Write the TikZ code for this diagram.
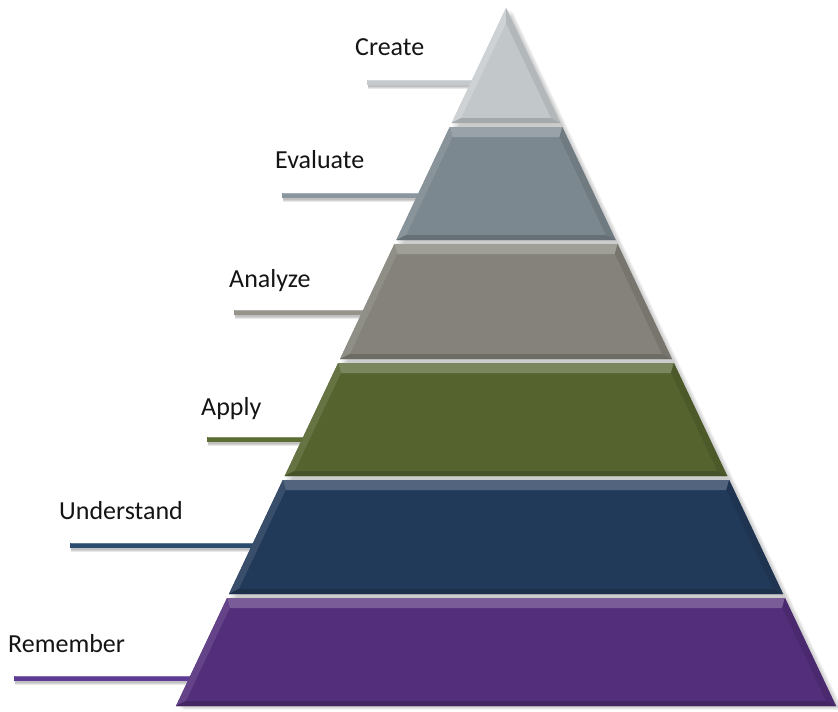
\documentclass[tikz,border=0pt]{standalone}
\usepackage{fontspec}
\setmainfont{Carlito}
\usetikzlibrary{calc}

% layer colours
\definecolor{createc}{HTML}{C2C7CA}
\definecolor{evalc}{HTML}{7C888F}
\definecolor{analc}{HTML}{84827A}
\definecolor{applc}{HTML}{55642F}
\definecolor{undc}{HTML}{223A5A}
\definecolor{remc}{HTML}{532E7B}
% leader line colours
\definecolor{createl}{HTML}{C4CACD}
\definecolor{evall}{HTML}{8A969D}
\definecolor{anall}{HTML}{96938A}
\definecolor{applyl}{HTML}{5C6E33}
\definecolor{undl}{HTML}{2C4C6F}
\definecolor{reml}{HTML}{5E3C95}

\begin{document}
\begin{tikzpicture}[x=1pt,y=-1pt,
  levellabel/.style={anchor=base west, inner sep=0pt,
    font=\fontsize{26}{30}\selectfont, text=black!92},
  leader/.style={line width=5pt},
  leadershadow/.style={line width=6pt, black, opacity=0.09},
]
\useasboundingbox (0,0) rectangle (838,712);

% ---- labels and leader lines -------------------------------------------
\foreach \nm/\lx/\ly/\sx/\sy/\lc/\txt in {
    create/355/55/367/82/createl/Create,
    evaluate/275/168/282/195/evall/Evaluate,
    analyze/229/287/234/312/anall/Analyze,
    apply/201/415/207/439/applyl/Apply,
    understand/59/519/70/545/undl/Understand,
    remember/8/652/14/678/reml/Remember}{
  \node[levellabel] (\nm-label) at (\lx,\ly) {\txt};
  \coordinate (\nm-start) at (\sx,\sy);
  \coordinate (\nm-edge) at ({506-(\sy-8)*0.4728+4},\sy);
  \foreach \d in {1.5,2.5,3.5}{
    \draw[leadershadow] ($(\nm-start)+(1,\d)$) -- ($(\nm-edge)+(1,\d)$);
  }
  \draw[leader, \lc] (\nm-start) -- (\nm-edge);
  \draw[line width=1.2pt, \lc!75!white] ($(\nm-start)+(0.6,-1.2)$) -- ($(\nm-edge)+(0,-1.2)$);
}

% ---- soft shadow behind the pyramid --------------------------------------
\foreach \i in {1,...,5}{
  \fill[black, opacity=0.045] ($(506,8)+(1.4*\i,0.8*\i)$) -- ($(836,706)+(1.4*\i,0.8*\i)$)
    -- ($(176,706)+(1.4*\i,0.8*\i)$) -- cycle;
}

% ---- top triangle: Create ------------------------------------------------
\coordinate (create-apex) at (506,8);
\coordinate (create-bl) at ({506-115*0.4728},123);
\coordinate (create-br) at ({506+115*0.4728},123);
\coordinate (create-iapex) at (506,23);
\coordinate (create-ibl) at ({506-110*0.4728+7},118);
\coordinate (create-ibr) at ({506+110*0.4728-7},118);
\fill[createc] (create-apex) -- (create-br) -- (create-bl) -- cycle;
\fill[createc!80!white] (create-apex) -- (create-iapex) -- (create-ibl) -- (create-bl) -- cycle;
\fill[createc!92!black] (create-apex) -- (create-br) -- (create-ibr) -- (create-iapex) -- cycle;
\fill[createc!85!black] (create-bl) -- (create-br) -- (create-ibr) -- (create-ibl) -- cycle;

% ---- bevelled trapezoid layers -------------------------------------------
\foreach \nm/\yt/\yb/\col in {
    evaluate/127/240/evalc,
    analyze/244/359/analc,
    apply/363/476/applc,
    understand/480/594/undc,
    remember/598/706/remc}{
  \pgfmathsetmacro\hwt{(\yt-8)*0.4728}
  \pgfmathsetmacro\hwb{(\yb-8)*0.4728}
  \pgfmathsetmacro\yti{\yt+10}
  \pgfmathsetmacro\ybi{\yb-5}
  \pgfmathsetmacro\hwti{(\yti-8)*0.4728-7.5}
  \pgfmathsetmacro\hwbi{(\ybi-8)*0.4728-7.5}
  \coordinate (\nm-tl) at (506-\hwt,\yt);
  \coordinate (\nm-tr) at (506+\hwt,\yt);
  \coordinate (\nm-br) at (506+\hwb,\yb);
  \coordinate (\nm-bl) at (506-\hwb,\yb);
  \coordinate (\nm-itl) at (506-\hwti,\yti);
  \coordinate (\nm-itr) at (506+\hwti,\yti);
  \coordinate (\nm-ibr) at (506+\hwbi,\ybi);
  \coordinate (\nm-ibl) at (506-\hwbi,\ybi);
  \fill[\col] (\nm-tl) -- (\nm-tr) -- (\nm-br) -- (\nm-bl) -- cycle;
  \fill[\col!78!white] (\nm-tl) -- (\nm-tr) -- (\nm-itr) -- (\nm-itl) -- cycle;
  \fill[\col!90!white] (\nm-tl) -- (\nm-itl) -- (\nm-ibl) -- (\nm-bl) -- cycle;
  \fill[\col!90!black] (\nm-tr) -- (\nm-br) -- (\nm-ibr) -- (\nm-itr) -- cycle;
  \fill[\col!82!black] (\nm-bl) -- (\nm-br) -- (\nm-ibr) -- (\nm-ibl) -- cycle;
}
\end{tikzpicture}
\end{document}
